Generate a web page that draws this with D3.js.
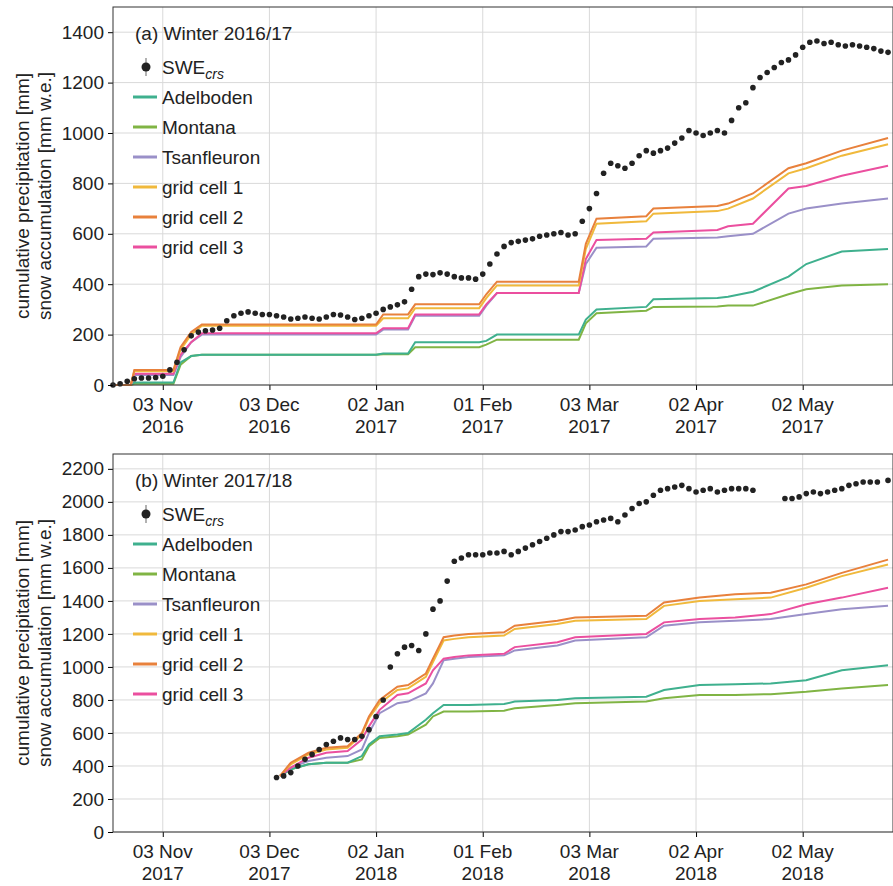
<html>
<head>
<script src="https://cdn.jsdelivr.net/npm/d3@7"></script>
<style>
body{margin:0;background:#fff;}
svg{font-family:"Liberation Sans",Arial,sans-serif;}
</style>
</head>
<body>
<div id="plot"></div>
<script>
'use strict';

// day offsets count from 20 Oct of the first year of each winter
var tickDays = [14, 44, 74, 104, 134, 164, 194];
var tickLabelsA = ['03 Nov|2016','03 Dec|2016','02 Jan|2017','01 Feb|2017','03 Mar|2017','02 Apr|2017','02 May|2017'];
var tickLabelsB = ['03 Nov|2017','03 Dec|2017','02 Jan|2018','01 Feb|2018','03 Mar|2018','02 Apr|2018','02 May|2018'];
var seriesNames = ['Adelboden','Montana','Tsanfleuron','grid cell 1','grid cell 2','grid cell 3'];
var seriesColors = ['#3fb08e','#80b444','#9a90c8','#f0b93c','#e8813c','#eb4f9f'];

// panel (a)
var sweDaysA = [];
for (var d = 0; d <= 218; d += 2) sweDaysA.push(d);
var sweA = [0,5,15,25,28,28,30,35,60,90,140,195,210,215,218,225,255,275,285,290,285,280,280,275,270,262,265,270,265,262,270,280,278,270,260,265,275,285,300,310,318,330,380,430,440,438,445,440,430,425,425,420,440,480,520,550,565,570,575,580,590,595,600,605,595,600,650,700,760,840,880,870,860,880,910,930,920,930,940,960,980,1010,1000,990,1000,1010,1000,1050,1100,1120,1180,1220,1240,1260,1280,1290,1310,1340,1360,1365,1355,1360,1350,1345,1350,1345,1340,1335,1325,1320];
var lineDaysA = [0,5,6,17,19,22,25,74,76,83,85,103,105,108,131,133,136,150,152,170,173,180,190,195,205,218];
var adelA = [0,0,10,10,90,115,120,120,125,125,170,170,175,200,200,260,300,310,340,345,350,370,430,480,530,540];
var montA = [0,0,5,5,80,115,120,120,122,122,150,150,160,180,180,245,285,295,310,312,315,315,360,380,395,400];
var tsanA = [0,0,40,40,110,170,200,200,220,220,275,275,315,365,365,480,545,550,580,585,590,600,680,700,720,740];
var grid1A = [0,0,55,55,140,200,235,235,265,265,305,305,345,395,395,540,640,650,680,690,700,740,840,860,910,955];
var grid2A = [0,0,60,60,150,210,240,240,280,280,320,320,360,410,410,560,660,670,700,710,720,760,860,880,930,980];
var grid3A = [0,0,45,45,120,170,205,205,225,225,280,280,320,365,365,500,575,580,605,615,630,640,780,790,830,870];

// panel (b)
var sweDaysB = [46,48,50,52,54,56,58,60,62,64,66,68,70,72,74,76,78,80,82,84,86,88,90,92,94,96,98,100,102,104,106,108,110,112,114,116,118,120,122,124,126,128,130,132,134,136,138,140,142,144,146,148,150,152,154,156,158,160,162,164,166,168,170,172,174,176,178,180,
  189,191,193,195,197,199,201,203,205,207,209,211,213,215,218];
var sweB = [330,340,360,400,440,470,500,530,550,570,560,560,580,620,700,800,1000,1080,1120,1130,1100,1200,1350,1400,1520,1640,1660,1680,1680,1680,1690,1690,1700,1680,1700,1720,1740,1760,1780,1800,1820,1820,1830,1850,1860,1880,1890,1900,1880,1920,1960,1990,2000,2040,2070,2080,2090,2100,2080,2060,2070,2080,2060,2070,2080,2080,2080,2070,
  2020,2020,2030,2050,2060,2050,2060,2070,2080,2100,2110,2120,2120,2120,2130];
var lineDaysB = [47,50,55,60,66,70,72,75,80,83,88,90,93,96,100,110,113,125,130,150,155,165,175,185,195,205,218];
var adelB = [340,380,410,420,420,460,530,580,590,600,680,720,770,770,770,775,790,800,810,820,860,890,895,900,920,980,1010];
var montB = [340,380,410,420,420,440,520,570,580,590,650,700,730,730,730,735,750,770,780,790,810,830,830,835,850,870,890];
var tsanB = [340,390,430,450,460,500,600,720,780,790,840,900,1040,1050,1060,1070,1100,1130,1160,1180,1250,1270,1280,1290,1320,1350,1370];
var grid1B = [340,410,470,500,510,590,690,780,860,870,940,1030,1160,1170,1180,1190,1230,1260,1280,1290,1370,1400,1410,1420,1480,1550,1620];
var grid2B = [340,420,480,510,520,600,700,800,880,890,960,1050,1180,1190,1200,1210,1250,1280,1300,1310,1390,1420,1440,1450,1500,1570,1650];
var grid3B = [340,390,450,480,490,560,640,740,830,840,900,980,1050,1060,1070,1080,1120,1150,1180,1200,1270,1290,1300,1320,1380,1420,1480];

var svg = d3.select('#plot').append('svg').attr('width', 893).attr('height', 886);
var FS = 19;

function drawPanel(top, bottom, yMax, yTicks, title, tickLabels, sweDays, swe, lineDays, lines){
  var left = 113, right = 893;
  var x = d3.scaleLinear().domain([0, 219.4]).range([left, right]);
  var y = d3.scaleLinear().domain([0, yMax]).range([bottom, top]);
  var g = svg.append('g');

  g.selectAll('.gx').data(tickDays).enter().append('line')
    .attr('x1', d => x(d)).attr('x2', d => x(d)).attr('y1', top).attr('y2', bottom)
    .attr('stroke', '#d9d9d9').attr('stroke-width', 1);
  g.selectAll('.gy').data(yTicks).enter().append('line')
    .attr('x1', left).attr('x2', right).attr('y1', d => y(d)).attr('y2', d => y(d))
    .attr('stroke', '#d9d9d9').attr('stroke-width', 1);

  var line = d3.line().x(d => x(d[0])).y(d => y(d[1]));
  [1,0,2,5,3,4].forEach(function(i){
    g.append('path').datum(lineDays.map((d, k) => [d, lines[i][k]]))
      .attr('d', line).attr('fill', 'none')
      .attr('stroke', seriesColors[i]).attr('stroke-width', 2);
  });

  g.selectAll('.dot').data(sweDays.map((d, k) => [d, swe[k]])).enter().append('circle')
    .attr('cx', d => x(d[0])).attr('cy', d => y(d[1])).attr('r', 2.8)
    .attr('fill', '#222');

  var ya = d3.axisLeft(y).tickValues(yTicks).tickSize(5).tickPadding(4).tickFormat(d3.format('d'));
  var yg = g.append('g').attr('transform', 'translate(' + left + ',0)').call(ya);
  yg.select('.domain').remove();
  yg.selectAll('text').attr('font-size', FS).attr('fill', '#222');

  var xa = d3.axisBottom(x).tickValues(tickDays).tickSize(5).tickFormat('');
  var xg = g.append('g').attr('transform', 'translate(0,' + bottom + ')').call(xa);
  xg.select('.domain').remove();
  tickDays.forEach(function(d, k){
    var parts = tickLabels[k].split('|');
    parts.forEach(function(p, j){
      g.append('text').attr('x', x(d)).attr('y', bottom + 26 + j * 22)
        .attr('text-anchor', 'middle').attr('font-size', FS).attr('fill', '#222').text(p);
    });
  });

  g.append('rect').attr('x', left).attr('y', top).attr('width', right - left).attr('height', bottom - top)
    .attr('fill', 'none').attr('stroke', '#333').attr('stroke-width', 1);

  var cy = (top + bottom) / 2;
  g.append('text').attr('transform', 'translate(29,' + cy + ') rotate(-90)')
    .attr('text-anchor', 'middle').attr('font-size', FS).attr('fill', '#222').text('cumulative precipitation [mm]');
  g.append('text').attr('transform', 'translate(51,' + cy + ') rotate(-90)')
    .attr('text-anchor', 'middle').attr('font-size', FS).attr('fill', '#222').text('snow accumulation [mm w.e.]');

  g.append('text').attr('x', 135).attr('y', top + 33).attr('font-size', FS).attr('fill', '#222').text(title);
  var ly = top + 60;
  g.append('line').attr('x1', 146).attr('x2', 146).attr('y1', ly - 9).attr('y2', ly + 9).attr('stroke', '#999').attr('stroke-width', 1.5);
  g.append('circle').attr('cx', 146).attr('cy', ly).attr('r', 4.5).attr('fill', '#222');
  var t = g.append('text').attr('x', 162).attr('y', ly + 7).attr('font-size', FS).attr('fill', '#222');
  t.append('tspan').text('SWE');
  t.append('tspan').attr('font-size', 14).attr('font-style', 'italic').attr('dy', 5).text('crs');
  seriesNames.forEach(function(n, i){
    var yy = ly + 30 * (i + 1);
    g.append('line').attr('x1', 133).attr('x2', 157).attr('y1', yy).attr('y2', yy)
      .attr('stroke', seriesColors[i]).attr('stroke-width', 3);
    g.append('text').attr('x', 162).attr('y', yy + 7).attr('font-size', FS).attr('fill', '#222').text(n);
  });
}

drawPanel(7, 385, 1500, [0,200,400,600,800,1000,1200,1400], '(a) Winter 2016/17', tickLabelsA,
  sweDaysA, sweA, lineDaysA, [adelA, montA, tsanA, grid1A, grid2A, grid3A]);
drawPanel(454, 832, 2290, [0,200,400,600,800,1000,1200,1400,1600,1800,2000,2200], '(b) Winter 2017/18', tickLabelsB,
  sweDaysB, sweB, lineDaysB, [adelB, montB, tsanB, grid1B, grid2B, grid3B]);
</script>
</body>
</html>
